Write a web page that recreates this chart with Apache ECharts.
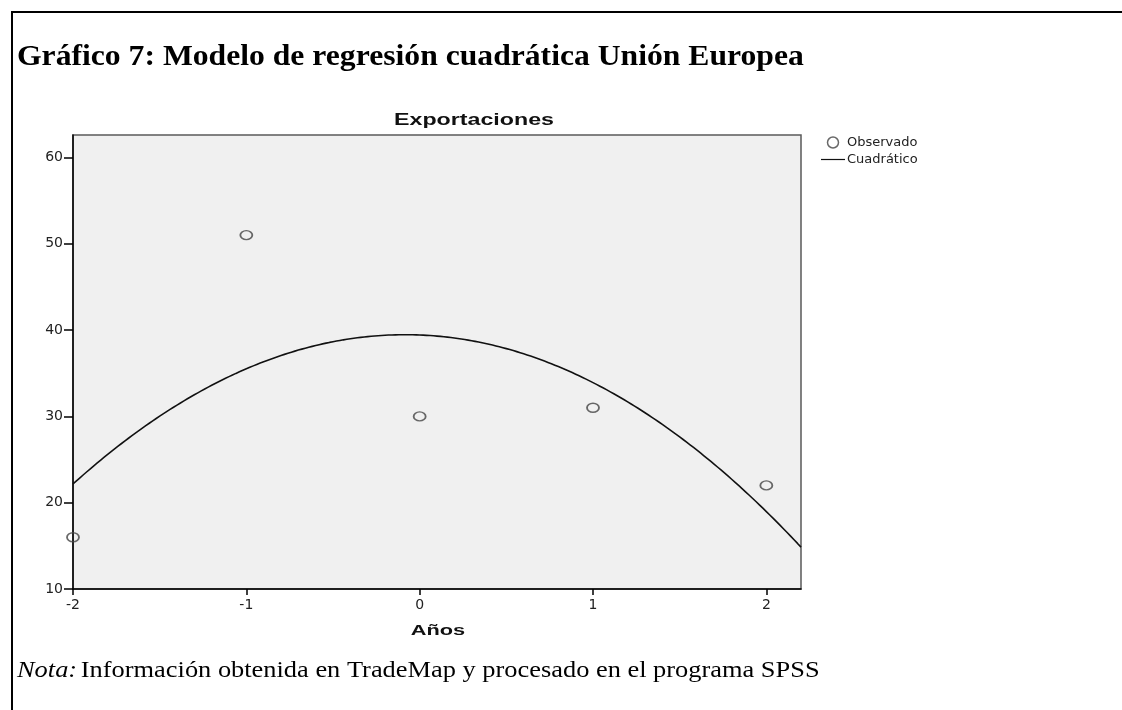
<!DOCTYPE html>
<html>
<head>
<meta charset="utf-8">
<script src="https://cdn.jsdelivr.net/npm/echarts@6/dist/echarts.min.js"></script>
<style>
html,body{margin:0;padding:0;background:#fff;}
#chart{width:1122px;height:710px;}
</style>
</head>
<body>
<div id="chart"></div>
<script>
// ---- data ----
var years = [-2, -1, 0, 1, 2];
var observed = [16, 51, 30, 31, 22];
var xTicks = [-2, -1, 0, 1, 2];
var yTicks = [10, 20, 30, 40, 50, 60];
var headerText = 'Gráfico 7: Modelo de regresión cuadrática Unión Europea';
var chartTitle = 'Exportaciones';
var xName = 'Años';
var seriesNames = ['Observado', 'Cuadrático'];

// quadratic least-squares fit of the observed values (the "Cuadrático" model)
function quadFit(xs, ys) {
  var n = xs.length, s = [0,0,0,0,0], t = [0,0,0];
  for (var i = 0; i < n; i++) {
    var p = 1;
    for (var k = 0; k < 5; k++) { s[k] += p; if (k < 3) t[k] += p * ys[i]; p *= xs[i]; }
  }
  var A = [[s[0],s[1],s[2],t[0]],[s[1],s[2],s[3],t[1]],[s[2],s[3],s[4],t[2]]];
  for (var c = 0; c < 3; c++) {
    for (var r = c + 1; r < 3; r++) {
      var f = A[r][c] / A[c][c];
      for (var j = c; j < 4; j++) A[r][j] -= f * A[c][j];
    }
  }
  var b = [0,0,0];
  for (var r2 = 2; r2 >= 0; r2--) {
    var v = A[r2][3];
    for (var j2 = r2 + 1; j2 < 3; j2++) v -= A[r2][j2] * b[j2];
    b[r2] = v / A[r2][r2];
  }
  return b;
}
var coef = quadFit(years, observed);
var xMin = -2, xMax = 2.2, yMin = 10, yMax = 62.6;
var fitLine = [];
for (var i = 0; i <= 210; i++) {
  var x = xMin + (xMax - xMin) * i / 210;
  fitLine.push([x, coef[0] + coef[1] * x + coef[2] * x * x]);
}
var scatterData = years.map(function (x, i) { return [x, observed[i]]; });

var chart = echarts.init(document.getElementById('chart'));
chart.setOption({
  backgroundColor: '#ffffff',
  animation: false,
  grid: {
    left: 73, top: 135, right: 321, bottom: 121,
    show: true, backgroundColor: '#f0f0f0', borderColor: '#5a5a5a', borderWidth: 1.5
  },
  legend: {
    orient: 'vertical', left: 821, top: 136, itemGap: 4, padding: 0,
    itemWidth: 24, itemHeight: 11,
    textStyle: { fontFamily: 'DejaVu Sans', fontSize: 13, color: '#222', lineHeight: 11, padding: [0, 0, 0, -3] },
    data: [
      { name: seriesNames[0], icon: 'circle',
        itemStyle: { color: 'transparent', borderColor: '#444', borderWidth: 1.5 } },
      { name: seriesNames[1], icon: 'path://M0,0 L32,0 L32,1.6 L0,1.6 Z',
        itemStyle: { color: '#111', borderWidth: 0 } }
    ]
  },
  xAxis: {
    type: 'value', min: xMin, max: xMax, interval: 1,
    splitLine: { show: false },
    axisLine: { onZero: false, lineStyle: { color: '#000', width: 1.5 } },
    axisTick: { show: true, length: 6, customValues: xTicks, lineStyle: { color: '#000', width: 1.5 } },
    axisLabel: { customValues: xTicks, margin: 9, fontFamily: 'DejaVu Sans', fontSize: 14, color: '#222' }
  },
  yAxis: {
    type: 'value', min: yMin, max: yMax, interval: 10,
    splitLine: { show: false },
    axisLine: { onZero: false, lineStyle: { color: '#000', width: 1.5 } },
    axisTick: { show: true, length: 9, customValues: yTicks, lineStyle: { color: '#000', width: 1.5 } },
    axisLabel: { customValues: yTicks, margin: 10, fontFamily: 'DejaVu Sans', fontSize: 14, color: '#222' }
  },
  series: [
    {
      name: seriesNames[0], type: 'scatter', data: scatterData,
      symbol: 'circle', symbolSize: [12, 9],
      itemStyle: { color: 'transparent', borderColor: '#444', borderWidth: 1.6 },
      z: 3
    },
    {
      name: seriesNames[1], type: 'line', data: fitLine,
      showSymbol: false, symbol: 'none', smooth: false,
      itemStyle: { color: '#111' },
      lineStyle: { color: '#111', width: 1.6 },
      z: 2
    }
  ],
  graphic: [
    { type: 'line', shape: { x1: 11, y1: 12, x2: 1122, y2: 12 }, style: { stroke: '#000', lineWidth: 2 } },
    { type: 'line', shape: { x1: 12, y1: 12, x2: 12, y2: 710 }, style: { stroke: '#000', lineWidth: 2 } },
    { type: 'text', x: 17, y: 57, scaleX: 1.055,
      style: { text: headerText, font: 'bold 30px "Liberation Serif"', fill: '#000', verticalAlign: 'middle', textAlign: 'left' } },
    { type: 'text', x: 474, y: 121, scaleX: 1.45,
      style: { text: chartTitle, font: 'bold 16px "Liberation Sans"', fill: '#111', verticalAlign: 'middle', textAlign: 'center' } },
    { type: 'text', x: 438, y: 631, scaleX: 1.45,
      style: { text: xName, font: 'bold 15px "Liberation Sans"', fill: '#111', verticalAlign: 'middle', textAlign: 'center' } },
    { type: 'text', x: 17, y: 671, scaleX: 1.1,
      style: {
        text: '{i|Nota:} {r|Información obtenida en TradeMap y procesado en el programa SPSS}',
        verticalAlign: 'middle', textAlign: 'left',
        rich: {
          i: { font: 'italic 24px "Liberation Serif"', fill: '#000' },
          r: { font: '24px "Liberation Serif"', fill: '#000' }
        }
      } }
  ]
});
</script>
</body>
</html>
